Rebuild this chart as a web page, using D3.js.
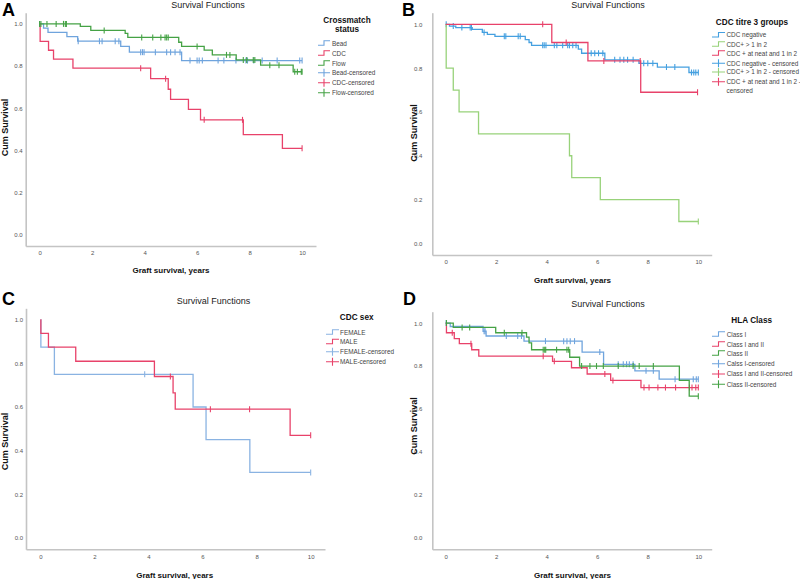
<!DOCTYPE html>
<html><head><meta charset="utf-8">
<script src="https://cdn.jsdelivr.net/npm/d3@7"></script>
<style>body{margin:0;background:#fff} svg{display:block;font-family:"Liberation Sans",Arial,sans-serif}</style>
</head><body><svg id="c" width="800" height="579"></svg>
<script>
// ---------- shared tick labels ----------
const xTicks = [0, 2, 4, 6, 8, 10];
const yTicks = [0.0, 0.2, 0.4, 0.6, 0.8, 1.0];

// ---------- Panel A: Crossmatch status ----------
const beadT = [0.15, 0.32, 1.04, 1.45, 3.09, 3.42, 5.41];
const beadS = [0.98, 0.96, 0.94, 0.918, 0.893, 0.866, 0.826];
const beadC = [0.0, 1.47, 2.28, 2.38, 2.88, 3.02, 3.85, 3.92, 3.98, 4.41, 4.84, 4.99, 5.16, 5.35, 5.73, 6.0, 6.08, 6.2, 6.8, 7.02, 7.48, 7.86, 7.92, 8.16, 8.48, 9.05, 9.91, 10.0];
const cdcT = [0.02, 0.34, 0.53, 1.27, 4.23, 4.9, 4.99, 5.67, 6.13, 7.76, 9.25];
const cdcS = [0.917, 0.875, 0.833, 0.79, 0.74, 0.69, 0.642, 0.595, 0.545, 0.475, 0.41];
const cdcC = [3.85, 4.8, 6.27, 7.73, 10.0];
const flowT = [1.55, 1.95, 3.26, 3.36, 5.3, 5.41, 6.27, 6.58, 7.49, 8.42, 9.66];
const flowS = [0.988, 0.969, 0.955, 0.936, 0.913, 0.893, 0.876, 0.853, 0.829, 0.804, 0.773];
const flowC = [0.0, 0.05, 0.28, 0.63, 0.91, 0.98, 1.02, 2.46, 3.89, 4.31, 4.62, 4.78, 4.84, 4.9, 6.0, 7.12, 7.25, 7.76, 7.89, 8.14, 8.2, 8.77, 9.12, 9.72, 9.82, 9.97, 10.0];
const labelsA = ["Bead", "CDC", "Flow", "Bead-censored", "CDC-censored", "Flow-censored"];

// ---------- Panel B: CDC titre 3 groups ----------
const negT = [0.15, 0.4, 1.05, 1.45, 1.65, 1.95, 3.15, 3.3, 3.4, 5.25, 5.38, 6.3, 7.65, 8.38, 9.63];
const negS = [0.992, 0.985, 0.977, 0.963, 0.954, 0.945, 0.930, 0.917, 0.904, 0.887, 0.868, 0.838, 0.822, 0.805, 0.780];
const negC = [0.02, 0.3, 0.64, 0.97, 1.02, 1.52, 2.32, 2.38, 2.87, 2.95, 3.84, 3.9, 3.97, 4.3, 4.4, 4.63, 4.83, 4.9, 5.03, 5.16, 5.76, 5.9, 6.05, 6.22, 6.69, 6.9, 7.05, 7.2, 7.42, 7.84, 8.0, 8.2, 8.74, 9.07, 9.73, 9.82, 9.9, 10.0];
const gt2T = [0.02, 0.3, 0.53, 1.3, 4.9, 4.99, 6.12, 9.23];
const gt2S = [0.8, 0.7, 0.6, 0.5, 0.4, 0.3, 0.2, 0.1];
const gt2C = [10.0];
const neatT = [4.2, 5.63, 7.72];
const neatS = [0.917, 0.833, 0.69];
const neatC = [3.84, 4.77, 6.26, 7.7, 9.97];
const labelsB = ["CDC negative", "CDC+ > 1 in 2", "CDC + at neat and 1 in 2", "CDC negative - censored", "CDC+ > 1 in 2 - censored", "CDC + at neat and 1 in 2 -|censored"];

// ---------- Panel C: CDC sex ----------
const femT = [0.02, 0.52, 5.65, 6.13, 7.75];
const femS = [0.875, 0.75, 0.6, 0.45, 0.3];
const femC = [3.86, 10.0];
const maleT = [0.02, 0.3, 1.31, 4.22, 4.91, 4.99, 9.24];
const maleS = [0.938, 0.875, 0.81, 0.74, 0.665, 0.59, 0.47];
const maleC = [4.81, 6.29, 7.74, 10.0];
const labelsC = ["FEMALE", "MALE", "FEMALE-censored", "MALE-censored"];

// ---------- Panel D: HLA Class ----------
const c1T = [0.18, 1.48, 1.6, 3.1, 5.4, 6.25, 7.49, 8.45];
const c1S = [0.984, 0.962, 0.94, 0.916, 0.865, 0.808, 0.778, 0.739];
const c1C = [0.02, 1.52, 1.56, 2.4, 2.85, 3.0, 3.95, 4.67, 4.8, 4.93, 5.1, 6.1, 6.83, 7.03, 7.16, 7.27, 7.42, 7.93, 8.22, 9.08, 9.8, 9.92, 10.0];
const c12T = [0.03, 0.34, 0.54, 1.03, 1.31, 4.23, 4.98, 5.6, 6.53, 7.73];
const c12S = [0.955, 0.928, 0.904, 0.876, 0.846, 0.822, 0.792, 0.763, 0.733, 0.70];
const c12C = [0.26, 1.0, 3.86, 4.3, 6.3, 6.62, 7.85, 8.05, 8.4, 8.7, 9.1, 9.65, 9.75, 9.9, 10.0];
const c2T = [0.3, 1.98, 3.2, 3.3, 3.4, 4.91, 5.3, 9.25, 9.64];
const c2S = [0.98, 0.955, 0.935, 0.908, 0.876, 0.841, 0.80, 0.733, 0.66];
const c2C = [0.03, 0.65, 0.95, 2.32, 3.02, 3.86, 3.92, 3.96, 4.39, 4.8, 4.87, 5.38, 5.71, 5.97, 6.24, 6.83, 7.42, 7.66, 8.22, 10.0];
const labelsD = ["Class I", "Class I and II", "Class II", "Calss I-censored", "Class I and II-censored", "Class II-censored"];

// ---------- colours ----------
const colBlue = "#6fa4dd", colRed = "#e8426a", colGreen = "#45a245";
const colBlueB = "#45a0e0", colGreenB = "#98d27a", colBlueC = "#8ab3e2";

// ---------- panels ----------
const panels = [
  { letter: "A", box: {l: 25.7, r: 316, t: 12.7, b: 246}, yPad: 3,
    letterPos: [2, 15.5], titlePos: [208, 7.5], xTitlePos: [171, 273], yTitlePos: [7.5, 127.5],
    legend: {title: ["Crossmatch", "status"], cx: 347, ty: 23, symX: 318, symW: 12, textX: 332,
             itemY: [43.3, 53.3, 63.3, 72.7, 82.7, 92.7]},
    series: [
      {t: beadT, s: beadS, c: beadC, col: colBlue},
      {t: cdcT, s: cdcS, c: cdcC, col: colRed},
      {t: flowT, s: flowS, c: flowC, col: colGreen}],
    labels: labelsA },
  { letter: "B", box: {l: 432.3, r: 711.7, t: 12.7, b: 255}, yPad: 10,
    letterPos: [402, 16], titlePos: [608, 7.5], xTitlePos: [572.5, 283], yTitlePos: [417, 133],
    legend: {title: ["CDC titre 3 groups"], cx: 752, ty: 24.5, symX: 712, symW: 13, textX: 726.5,
             itemY: [35, 44.3, 53.3, 63.3, 72, 81.7]},
    series: [
      {t: negT, s: negS, c: negC, col: colBlueB},
      {t: gt2T, s: gt2S, c: gt2C, col: colGreenB},
      {t: neatT, s: neatS, c: neatC, col: colRed}],
    labels: labelsB },
  { letter: "C", box: {l: 26, r: 325, t: 308.3, b: 549.3}, yPad: 3,
    letterPos: [2, 305], titlePos: [213.5, 304], xTitlePos: [174.7, 578], yTitlePos: [7.5, 441.5],
    legend: {title: ["CDC sex"], cx: 356.7, ty: 319.5, symX: 326, symW: 13, textX: 340,
             itemY: [332.3, 341.7, 351.7, 361.7]},
    series: [
      {t: femT, s: femS, c: femC, col: colBlueC},
      {t: maleT, s: maleS, c: maleC, col: colRed}],
    labels: labelsC },
  { letter: "D", box: {l: 432.3, r: 711.7, t: 311.7, b: 549.3}, yPad: 10,
    letterPos: [403, 305], titlePos: [608, 307], xTitlePos: [572.5, 578], yTitlePos: [417, 426],
    legend: {title: ["HLA Class"], cx: 751.7, ty: 322.7, symX: 712, symW: 13, textX: 726.7,
             itemY: [334.3, 344.3, 353.3, 363.7, 374, 384.3]},
    series: [
      {t: c1T, s: c1S, c: c1C, col: colBlue},
      {t: c12T, s: c12S, c: c12C, col: colRed},
      {t: c2T, s: c2S, c: c2C, col: colGreen}],
    labels: labelsD }
];

const svg = d3.select("#c");

function survAt(T, S, t) {
  let v = 1;
  for (let i = 0; i < T.length; i++) if (T[i] <= t) v = S[i];
  return v;
}

panels.forEach(p => {
  const g = svg.append("g");
  const {l, r, t, b} = p.box;
  const x = d3.scaleLinear().domain([-0.53, 10.53]).range([l, r]);
  const y = d3.scaleLinear().domain([-0.053, 1.053]).range([b, t]);

  // axes
  const xa = g.append("g").attr("transform", `translate(0,${b})`)
    .call(d3.axisBottom(x).tickValues(xTicks).tickSize(0).tickSizeOuter(0).tickPadding(5).tickFormat(d3.format("d")));
  const ya = g.append("g").attr("transform", `translate(${l},0)`)
    .call(d3.axisLeft(y).tickValues(yTicks).tickSize(0).tickSizeOuter(0).tickPadding(p.yPad).tickFormat(d3.format(".1f")));
  [xa, ya].forEach(a => {
    a.select(".domain").attr("stroke", "#c4c4c4").attr("stroke-width", 1.6);
    a.selectAll("text").attr("font-size", 6).attr("fill", "#555").attr("font-family", '"Liberation Sans",Arial,sans-serif');
  });

  // curves
  const line = d3.line().x(d => x(d[0])).y(d => y(d[1])).curve(d3.curveStepAfter);
  p.series.forEach(se => {
    const pts = [[0, 1]].concat(se.t.map((tt, i) => [tt, se.s[i]]));
    const end = Math.max(d3.max(se.t), d3.max(se.c));
    pts.push([end, se.s[se.s.length - 1]]);
    g.append("path").attr("d", line(pts)).attr("fill", "none")
      .attr("stroke", se.col).attr("stroke-width", 1.3);
    g.selectAll(null).data(se.c).enter().append("line")
      .attr("x1", d => x(d)).attr("x2", d => x(d))
      .attr("y1", d => y(survAt(se.t, se.s, d)) - 3)
      .attr("y2", d => y(survAt(se.t, se.s, d)) + 3)
      .attr("stroke", se.col).attr("stroke-width", 1.1);
  });

  // texts
  g.append("text").attr("x", p.letterPos[0]).attr("y", p.letterPos[1])
    .attr("font-size", 18).attr("font-weight", "bold").attr("fill", "#000").text(p.letter);
  g.append("text").attr("x", p.titlePos[0]).attr("y", p.titlePos[1]).attr("text-anchor", "middle")
    .attr("font-size", 9).attr("fill", "#222").text("Survival Functions");
  g.append("text").attr("x", p.xTitlePos[0]).attr("y", p.xTitlePos[1]).attr("text-anchor", "middle")
    .attr("font-size", 8).attr("font-weight", "bold").attr("fill", "#111").text("Graft survival, years");
  g.append("text").attr("transform", `translate(${p.yTitlePos[0]},${p.yTitlePos[1]}) rotate(-90)`)
    .attr("text-anchor", "middle").attr("font-size", 9).attr("font-weight", "bold").attr("fill", "#111")
    .text("Cum Survival");

  // legend
  const lg = p.legend;
  lg.title.forEach((tx, i) => {
    g.append("text").attr("x", lg.cx).attr("y", lg.ty + i * 9).attr("text-anchor", "middle")
      .attr("font-size", 8.2).attr("font-weight", "bold").attr("fill", "#111").text(tx);
  });
  const n = p.series.length;
  p.labels.forEach((lab, i) => {
    const se = p.series[i % n];
    const yy = lg.itemY[i];
    const x0 = lg.symX, x1 = lg.symX + lg.symW, xm = (x0 + x1) / 2;
    if (i < n) {
      g.append("path").attr("d", `M${x0},${yy + 2}H${xm}V${yy - 2.5}H${x1}`)
        .attr("fill", "none").attr("stroke", se.col).attr("stroke-width", 1.1);
    } else {
      g.append("path").attr("d", `M${x0},${yy}H${x1}M${xm},${yy - 4}V${yy + 4}`)
        .attr("fill", "none").attr("stroke", se.col).attr("stroke-width", 1.1);
    }
    lab.split("|").forEach((part, k) => {
      g.append("text").attr("x", lg.textX).attr("y", yy + 2.4 + k * 9.3)
        .attr("font-size", 6.4).attr("fill", "#444").text(part);
    });
  });
});
</script></body></html>
